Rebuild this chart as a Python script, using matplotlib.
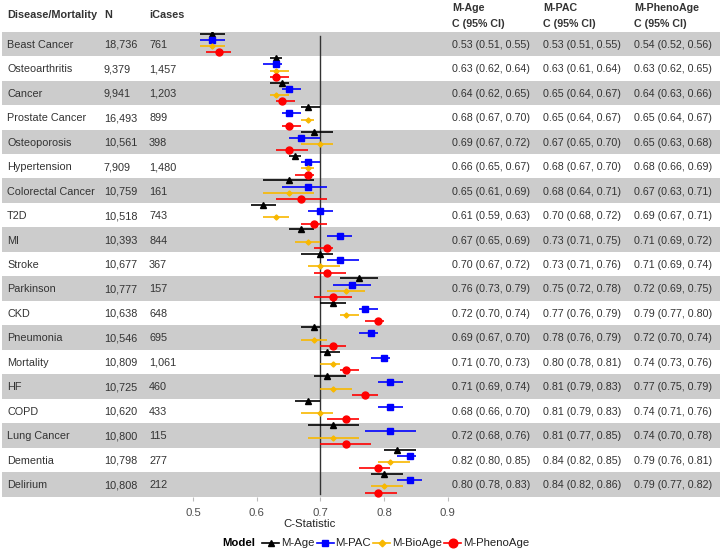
import matplotlib
matplotlib.use("Agg")
import matplotlib.pyplot as plt
from matplotlib.lines import Line2D
from matplotlib.patches import Rectangle
from matplotlib.transforms import blended_transform_factory

plt.rcParams['font.family'] = ['Liberation Sans', 'DejaVu Sans']

diseases = ["Beast Cancer", "Osteoarthritis", "Cancer", "Prostate Cancer", "Osteoporosis",
            "Hypertension", "Colorectal Cancer", "T2D", "MI", "Stroke", "Parkinson", "CKD",
            "Pneumonia", "Mortality", "HF", "COPD", "Lung Cancer", "Dementia", "Delirium"]
n_total = ["18,736", "9,379", "9,941", "16,493", "10,561", "7,909", "10,759", "10,518",
           "10,393", "10,677", "10,777", "10,638", "10,546", "10,809", "10,725", "10,620",
           "10,800", "10,798", "10,808"]
icases = ["761", "1,457", "1,203", "899", "398", "1,480", "161", "743", "844", "367", "157",
          "648", "695", "1,061", "460", "433", "115", "277", "212"]

mage = [0.53, 0.63, 0.64, 0.68, 0.69, 0.66, 0.65, 0.61, 0.67, 0.70, 0.76, 0.72, 0.69, 0.71, 0.71, 0.68, 0.72, 0.82, 0.80]
mage_lo = [0.51, 0.62, 0.62, 0.67, 0.67, 0.65, 0.61, 0.59, 0.65, 0.67, 0.73, 0.70, 0.67, 0.70, 0.69, 0.66, 0.68, 0.80, 0.78]
mage_hi = [0.55, 0.64, 0.65, 0.70, 0.72, 0.67, 0.69, 0.63, 0.69, 0.72, 0.79, 0.74, 0.70, 0.73, 0.74, 0.70, 0.76, 0.85, 0.83]

mpac = [0.53, 0.63, 0.65, 0.65, 0.67, 0.68, 0.68, 0.70, 0.73, 0.73, 0.75, 0.77, 0.78, 0.80, 0.81, 0.81, 0.81, 0.84, 0.84]
mpac_lo = [0.51, 0.61, 0.64, 0.64, 0.65, 0.67, 0.64, 0.68, 0.71, 0.71, 0.72, 0.76, 0.76, 0.78, 0.79, 0.79, 0.77, 0.82, 0.82]
mpac_hi = [0.55, 0.64, 0.67, 0.67, 0.70, 0.70, 0.71, 0.72, 0.75, 0.76, 0.78, 0.79, 0.79, 0.81, 0.83, 0.83, 0.85, 0.85, 0.86]

mbio = [0.53, 0.63, 0.63, 0.68, 0.70, 0.68, 0.65, 0.63, 0.68, 0.70, 0.74, 0.74, 0.69, 0.72, 0.72, 0.70, 0.72, 0.81, 0.80]
mbio_lo = [0.51, 0.62, 0.62, 0.67, 0.67, 0.67, 0.61, 0.61, 0.66, 0.68, 0.71, 0.73, 0.67, 0.70, 0.70, 0.67, 0.68, 0.79, 0.78]
mbio_hi = [0.55, 0.65, 0.65, 0.69, 0.72, 0.69, 0.69, 0.65, 0.70, 0.73, 0.77, 0.76, 0.71, 0.73, 0.75, 0.72, 0.76, 0.84, 0.83]

mpheno = [0.54, 0.63, 0.64, 0.65, 0.65, 0.68, 0.67, 0.69, 0.71, 0.71, 0.72, 0.79, 0.72, 0.74, 0.77, 0.74, 0.74, 0.79, 0.79]
mpheno_lo = [0.52, 0.62, 0.63, 0.64, 0.63, 0.66, 0.63, 0.67, 0.69, 0.69, 0.69, 0.77, 0.70, 0.73, 0.75, 0.71, 0.70, 0.76, 0.77]
mpheno_hi = [0.56, 0.65, 0.66, 0.67, 0.68, 0.69, 0.71, 0.71, 0.72, 0.74, 0.75, 0.80, 0.74, 0.76, 0.79, 0.76, 0.78, 0.81, 0.82]

model_names = ["M-Age", "M-PAC", "M-BioAge", "M-PhenoAge"]
xticks = [0.5, 0.6, 0.7, 0.8, 0.9]

W, H = 720, 550
fig = plt.figure(figsize=(W / 100, H / 100), dpi=100)

top_px, bot_px = 31.7, 496.5
ax_left_px, ax_right_px = 160, 460
ppu = 636.0
x0 = 0.5 - (193.3 - ax_left_px) / ppu
x1 = 0.5 + (ax_right_px - 193.3) / ppu
ax = fig.add_axes([ax_left_px / W, 1 - bot_px / H, (ax_right_px - ax_left_px) / W, (bot_px - top_px) / H])
ax.set_zorder(2)
ax.patch.set_alpha(0)
nrow = len(diseases)
row_px = (bot_px - top_px) / nrow
ax.set_xlim(x0, x1)
ax.set_ylim(nrow - 0.5, -0.5)

bt = blended_transform_factory(fig.transFigure, ax.transData)
for i in range(nrow):
    if i % 2 == 0:
        fig.patches.append(Rectangle((0.003, i - 0.5), 0.997, 1.0, transform=bt,
                                     facecolor='#CCCCCC', edgecolor='none', zorder=0))

ax.plot([0.7, 0.7], [-0.33, nrow - 0.62], color='#333333', lw=1.0, zorder=2)

series = [
    (mage, mage_lo, mage_hi, 'black', '^', 4.0, -0.42),
    (mpac, mpac_lo, mpac_hi, '#0000FF', 's', 4.0, -0.165),
    (mbio, mbio_lo, mbio_hi, '#F8B800', 'D', 2.6, 0.09),
    (mpheno, mpheno_lo, mpheno_hi, '#FF0000', 'o', 5.0, 0.345),
]
for vals, lo, hi, col, mk, ms, off in series:
    ys = [i + off for i in range(nrow)]
    ax.hlines(ys, lo, hi, color=col, lw=1.2, zorder=3)
    ax.plot(vals, ys, linestyle='none', marker=mk, color=col, markersize=ms, zorder=4)

for s in ax.spines.values():
    s.set_visible(False)
ax.set_yticks([])
ax.set_xticks(xticks)
ax.set_xticklabels([f"{t:.1f}" for t in xticks])
ax.tick_params(axis='x', length=3, width=0.8, color='#BBBBBB', labelsize=8.2,
               labelcolor='#4D4D4D', pad=5)
ax.set_xlabel("C-Statistic", fontsize=8.2, color='#222222', labelpad=1)

txt_col = '#333333'
fs = 7.8
fs2 = 7.7
# baseline offset so that the cap height is centred in the row
base_off = (fs * 100 / 72 * 0.716 / 2) / row_px
for i in range(nrow):
    yb = i + base_off
    kw = dict(transform=bt, color=txt_col, va='baseline', ha='left')
    ax.text(7 / W, yb, diseases[i], fontsize=fs, **kw)
    ax.text(104 / W, yb, n_total[i], fontsize=fs, **kw)
    ax.text(149 / W, yb, icases[i], fontsize=fs, **kw)
    ax.text(452.5 / W, yb, f"{mage[i]:.2f} ({mage_lo[i]:.2f}, {mage_hi[i]:.2f})", fontsize=fs2, **kw)
    ax.text(543 / W, yb, f"{mpac[i]:.2f} ({mpac_lo[i]:.2f}, {mpac_hi[i]:.2f})", fontsize=fs2, **kw)
    ax.text(634 / W, yb, f"{mpheno[i]:.2f} ({mpheno_lo[i]:.2f}, {mpheno_hi[i]:.2f})", fontsize=fs2, **kw)

cap = fs * 100 / 72 * 0.716 / 2
hy = 1 - (14.5 + cap) / H
fig.text(7 / W, hy, "Disease/Mortality", fontsize=fs, weight='bold', color=txt_col, va='baseline')
fig.text(104 / W, hy, "N", fontsize=fs, weight='bold', color=txt_col, va='baseline')
fig.text(149 / W, hy, "iCases", fontsize=fs, weight='bold', color=txt_col, va='baseline')
for xpx, name in [(452.5, "M-Age"), (543, "M-PAC"), (634, "M-PhenoAge")]:
    fig.text(xpx / W, 1 - (7.5 + cap) / H, name, fontsize=fs2, weight='bold', color=txt_col, va='baseline')
    fig.text(xpx / W, 1 - (23.5 + cap) / H, "C (95% CI)", fontsize=fs2, weight='bold', color=txt_col, va='baseline')

# legend
ly = 1 - 543.5 / H
fig.text(222 / W, ly, "Model", fontsize=8.2, weight='bold', color='black', va='center')
handles = [Line2D([], [], color=c, marker=m, markersize=ms * 1.25 if m != 'D' else ms * 1.3, lw=1.2)
           for (_, _, _, c, m, ms, _) in series]
fig.legend(handles, model_names, loc='center left', bbox_to_anchor=(262 / W, ly), ncol=4,
           frameon=False, fontsize=8.2, handlelength=1.5, handletextpad=0.15, columnspacing=0.2,
           borderpad=0, borderaxespad=0, labelcolor='#222222')

fig.savefig("out.png", dpi=100)
